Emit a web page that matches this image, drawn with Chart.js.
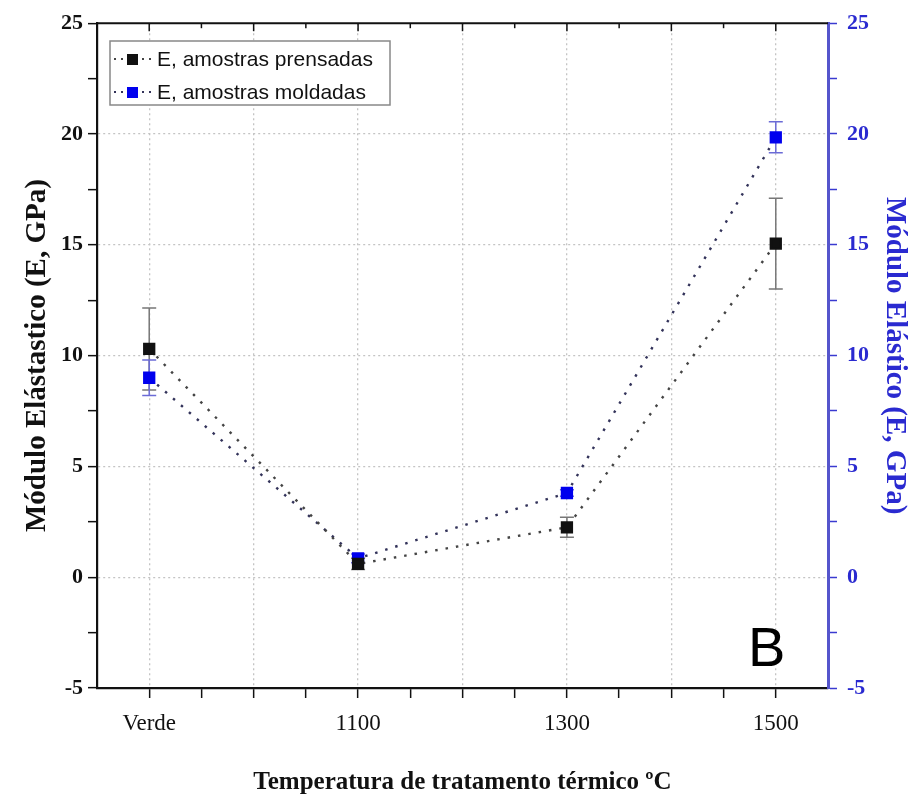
<!DOCTYPE html>
<html><head><meta charset="utf-8">
<script src="https://cdn.jsdelivr.net/npm/chart.js@4/dist/chart.umd.min.js"></script>
<style>html,body{margin:0;padding:0;background:#fff}#wrap{width:914px;height:803px}</style>
</head><body><div id="wrap"><canvas id="c" width="914" height="803"></canvas></div>
<script>
// ---- data ----
const categories = ['Verde', '1100', '1300', '1500'];
const categoryPositions = [900, 1100, 1300, 1500];
const pressedValues = [10.3, 0.6, 2.25, 15.05];
const pressedErrors = [1.85, 0.25, 0.45, 2.05];
const moldedValues = [9.0, 0.85, 3.8, 19.85];
const moldedErrors = [0.8, 0.2, 0.15, 0.7];
const yTickValues = [-5, 0, 5, 10, 15, 20, 25];
const seriesLabels = ['E, amostras prensadas', 'E, amostras moldadas'];
const xTitle = 'Temperatura de tratamento térmico ºC';
const yTitleLeft = 'Módulo Elástastico (E, GPa)';
const yTitleRight = 'Módulo Elástico (E, GPa)';
const panelLetter = 'B';

const toPts = (vals) => vals.map((v, i) => ({x: categoryPositions[i], y: v}));

const errorBarPlugin = {
  id: 'errorBars',
  beforeDatasetsDraw(chart) {
    const ctx = chart.ctx;
    const xs = chart.scales.x;
    chart.data.datasets.forEach((ds) => {
      const ys = chart.scales[ds.yAxisID];
      ctx.save();
      ctx.strokeStyle = ds.errorColor;
      ctx.lineWidth = 1.5;
      ds.data.forEach((p, i) => {
        const e = ds.errors[i];
        const px = xs.getPixelForValue(p.x);
        const top = ys.getPixelForValue(p.y + e);
        const bot = ys.getPixelForValue(p.y - e);
        ctx.beginPath();
        ctx.moveTo(px, top); ctx.lineTo(px, bot);
        ctx.moveTo(px - 7, top); ctx.lineTo(px + 7, top);
        ctx.moveTo(px - 7, bot); ctx.lineTo(px + 7, bot);
        ctx.stroke();
      });
      ctx.restore();
    });
  }
};

const framePlugin = {
  id: 'frame',
  afterDraw(chart) {
    const ctx = chart.ctx;
    const a = chart.chartArea;
    const xs = chart.scales.x;
    ctx.save();
    // top border with inward ticks
    ctx.strokeStyle = '#111';
    ctx.lineWidth = 2;
    ctx.beginPath();
    ctx.moveTo(a.left, a.top); ctx.lineTo(a.right, a.top);
    ctx.stroke();
    ctx.lineWidth = 1.5;
    xs.ticks.forEach((t) => {
      if (t.value <= xs.min || t.value >= xs.max) return;
      const px = xs.getPixelForValue(t.value);
      const len = (t.value % 100 === 0) ? 8 : 5;
      ctx.beginPath(); ctx.moveTo(px, a.top); ctx.lineTo(px, a.top + len); ctx.stroke();
    });
    // legend
    const lx = 110, ly = 41, lw = 280, lh = 64;
    ctx.fillStyle = '#fff';
    ctx.fillRect(lx, ly, lw, lh);
    ctx.strokeStyle = '#888';
    ctx.lineWidth = 1.5;
    ctx.strokeRect(lx, ly, lw, lh);
    chart.data.datasets.forEach((ds, i) => {
      const cy = ly + 18 + i * 33;
      ctx.strokeStyle = ds.borderColor;
      ctx.lineWidth = 2;
      ctx.setLineDash([2, 5]);
      ctx.beginPath(); ctx.moveTo(lx + 4, cy); ctx.lineTo(lx + 44, cy); ctx.stroke();
      ctx.setLineDash([]);
      ctx.fillStyle = ds.pointBackgroundColor;
      ctx.fillRect(lx + 17, cy - 5, 11, 11);
      ctx.fillStyle = '#111';
      ctx.font = '21px "Liberation Sans", Arial, sans-serif';
      ctx.textBaseline = 'middle';
      ctx.textAlign = 'left';
      ctx.fillText(ds.label, lx + 47, cy + 1);
    });
    // panel letter
    ctx.fillStyle = '#000';
    ctx.font = '56px "Liberation Sans", Arial, sans-serif';
    ctx.textAlign = 'left';
    ctx.textBaseline = 'alphabetic';
    ctx.fillText(panelLetter, 748, 666);
    ctx.restore();
  }
};

const serif = '"Liberation Serif", "Times New Roman", serif';

new Chart(document.getElementById('c'), {
  type: 'line',
  data: {
    datasets: [
      {
        label: seriesLabels[0],
        data: toPts(pressedValues),
        errors: pressedErrors,
        errorColor: '#777',
        yAxisID: 'y',
        borderColor: '#444',
        borderWidth: 2.4,
        borderDash: [2.5, 8],
        pointStyle: 'rect',
        pointRadius: 7,
        pointBackgroundColor: '#111',
        pointBorderColor: '#111',
        fill: false,
        tension: 0
      },
      {
        label: seriesLabels[1],
        data: toPts(moldedValues),
        errors: moldedErrors,
        errorColor: '#6b6bd6',
        yAxisID: 'y2',
        borderColor: '#33335a',
        borderWidth: 2.4,
        borderDash: [2.5, 8],
        pointStyle: 'rect',
        pointRadius: 7,
        pointBackgroundColor: '#0000ee',
        pointBorderColor: '#0000ee',
        fill: false,
        tension: 0
      }
    ]
  },
  options: {
    responsive: false,
    animation: false,
    layout: {padding: {top: 22, left: 0, right: 0, bottom: 0}},
    plugins: {legend: {display: false}, tooltip: {enabled: false}},
    scales: {
      x: {
        type: 'linear',
        min: 850, max: 1550,
        afterFit: (s) => { s.height = 115; },
        afterBuildTicks: (s) => {
          const t = [];
          for (let v = s.min; v <= s.max; v += 50) t.push({value: v});
          s.ticks = t;
        },
        ticks: {
          autoSkip: false, maxRotation: 0, padding: 12,
          color: '#111',
          font: {family: serif, size: 23},
          callback: (v) => {
            const i = categoryPositions.indexOf(v);
            return i >= 0 ? categories[i] : '';
          }
        },
        grid: {
          color: (c) => (c.tick && c.tick.value % 100 === 0 && c.tick.value > 850 && c.tick.value < 1550) ? '#c4c4c4' : 'rgba(0,0,0,0)',
          tickColor: (c) => (c.tick && c.tick.value > 850 && c.tick.value < 1550) ? '#111' : 'rgba(0,0,0,0)',
          lineWidth: 1.3,
          tickWidth: 1.5,
          tickLength: 10,
          tickBorderDash: [],
          drawTicks: true
        },
        border: {display: true, color: '#111', width: 2.2, dash: [2, 3]},
        title: {display: true, text: xTitle, color: '#111', font: {family: serif, size: 25, weight: 'bold'}, padding: {top: 0, bottom: 5}}
      },
      y: {
        position: 'left',
        min: -5, max: 25,
        afterFit: (s) => { s.width = 97; },
        afterBuildTicks: (s) => {
          const t = [];
          for (let v = s.min; v <= s.max + 1e-9; v += 2.5) t.push({value: v});
          s.ticks = t;
        },
        ticks: {
          padding: 5, color: '#111',
          font: {family: serif, size: 22, weight: 'bold'},
          callback: (v) => yTickValues.includes(v) ? String(v) : ''
        },
        grid: {
          color: (c) => (c.tick && c.tick.value % 5 === 0 && c.tick.value > -5 && c.tick.value < 25) ? '#c4c4c4' : 'rgba(0,0,0,0)',
          tickColor: '#111',
          lineWidth: 1.3, tickWidth: 1.5, tickLength: 9,
          tickBorderDash: []
        },
        border: {display: true, color: '#111', width: 2.2, dash: [2, 3]},
        title: {display: true, text: yTitleLeft, color: '#111', font: {family: serif, size: 29, weight: 'bold'}, padding: {top: 20, bottom: 0}}
      },
      y2: {
        position: 'right',
        min: -5, max: 25,
        afterFit: (s) => { s.width = 86; },
        afterBuildTicks: (s) => {
          const t = [];
          for (let v = s.min; v <= s.max + 1e-9; v += 2.5) t.push({value: v});
          s.ticks = t;
        },
        ticks: {
          padding: 10, color: '#2a2ad0',
          font: {family: serif, size: 22, weight: 'bold'},
          callback: (v) => yTickValues.includes(v) ? String(v) : ''
        },
        grid: {
          drawOnChartArea: false,
          tickColor: '#3a3ad0',
          tickWidth: 1.5, tickLength: 9,
          tickBorderDash: []
        },
        border: {display: true, color: '#5555cc', width: 3},
        title: {display: true, text: yTitleRight, color: '#2a2ad0', font: {family: serif, size: 29, weight: 'bold'}, padding: {top: 2, bottom: 0}}
      }
    }
  },
  plugins: [errorBarPlugin, framePlugin]
});
</script>
</body></html>
